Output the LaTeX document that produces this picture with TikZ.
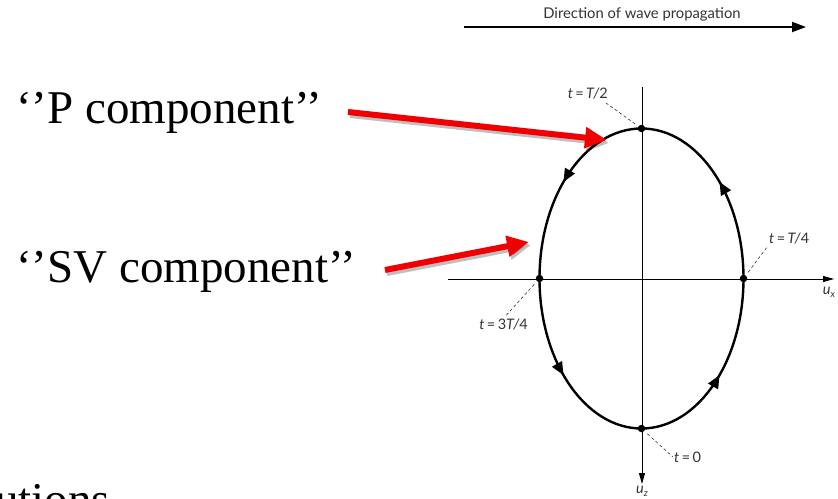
\documentclass[tikz,border=0pt]{standalone}
\usepackage{fontspec}
\setmainfont{Liberation Serif}
\newfontfamily\labfont{Lato}
\usetikzlibrary{arrows.meta,decorations.markings}
\definecolor{labgray}{HTML}{333333}
\definecolor{redarrow}{HTML}{F00000}
\begin{document}
\begin{tikzpicture}[x=1pt,y=-1pt,
  axisline/.style={line width=0.9pt,-{Triangle[length=11,width=6]}},
  dotnode/.style={circle,fill=black,inner sep=0pt,minimum size=7.5pt},
  tlabel/.style={font=\labfont\fontsize{14.5}{16}\selectfont,text=labgray,inner sep=1pt},
  dashline/.style={labgray,line width=0.6pt,dash pattern=on 3pt off 2.5pt},
  bigtext/.style={font=\fontsize{47}{50}\selectfont,inner sep=0pt},
  redarr/.style={redarrow,line width=6pt,-{Triangle[length=22,width=20]}},
  shadowarr/.style={black,opacity=0.25,line width=6pt,-{Triangle[length=22,width=20]}},
  ellarrows/.style={decoration={markings,
     mark=at position 0.126 with {\arrowreversed{Triangle[length=13,width=11]}},
     mark=at position 0.374 with {\arrowreversed{Triangle[length=13,width=11]}},
     mark=at position 0.626 with {\arrowreversed{Triangle[length=13,width=11]}},
     mark=at position 0.874 with {\arrowreversed{Triangle[length=13,width=11]}}},
     postaction={decorate}}
]
\useasboundingbox (0,0) rectangle (838,498);
\clip (0,0) rectangle (838,498);

% direction of propagation
\coordinate (d1) at (464,27);
\coordinate (d2) at (806,27);
\draw[line width=2pt,-{Triangle[length=14,width=10]}] (d1) -- (d2);
\node[anchor=base,font=\labfont\fontsize{14.8}{17}\selectfont,text=labgray,inner sep=0pt] (dir) at (642,18) {Direction of wave propagation};

% axes
\coordinate (xl) at (448,279);
\coordinate (xr) at (834,279);
\coordinate (zt) at (642,87);
\coordinate (zb) at (642,484);
\draw[axisline] (xl) -- (xr);
\draw[axisline] (zt) -- (zb);
\node[tlabel] (ux) at (829,292) {\itshape u\raisebox{-0.45ex}{\fontsize{9.5}{10}\selectfont x}};
\node[tlabel] (uz) at (642,491) {\itshape u\raisebox{-0.45ex}{\fontsize{9.5}{10}\selectfont z}};

% ellipse
\coordinate (c) at (641.5,278.5);
\draw[line width=2.4pt,ellarrows] (c) ellipse [x radius=102, y radius=150];

% points
\node[dotnode] (p0) at (641.5,428.5) {};
\node[dotnode] (p1) at (743.5,278.5) {};
\node[dotnode] (p2) at (641.5,128.5) {};
\node[dotnode] (p3) at (539.5,278.5) {};

% time labels
\node[tlabel,anchor=west] (l0) at (673,457) {\itshape t\upshape\,=\,0};
\node[tlabel,anchor=west] (l1) at (768,239) {\itshape t\upshape\,=\,\itshape T/\upshape 4};
\node[tlabel,anchor=east] (l2) at (609,94) {\itshape t\upshape\,=\,\itshape T/\upshape 2};
\node[tlabel,anchor=east] (l3) at (529,325) {\itshape t\upshape\,=\,3\itshape T/\upshape 4};
\draw[dashline,shorten <=4pt] (p0) -- (l0.west);
\draw[dashline,shorten <=4pt,shorten >=2pt] (p1) -- (l1.south west);
\draw[dashline,shorten <=4pt,shorten >=2pt] (p2) -- ([xshift=-6pt]l2.south east);
\draw[dashline,shorten <=4pt,shorten >=2pt] (p3) -- (l3.north);

% texts
\node[bigtext,anchor=base west] (ptext) at (16,123) {‘’P component’’};
\node[bigtext,anchor=base west] (svtext) at (16,282) {‘’SV component’’};
\node[bigtext,anchor=base west] (cut) at (-5,515) {utions};

% red arrows
\coordinate (pa1) at (348,112);
\coordinate (pa2) at (607,140);
\coordinate (sa1) at (385,270);
\coordinate (sa2) at (529,242);
\draw[shadowarr] ([shift={(2,3)}]pa1) -- ([shift={(2,3)}]pa2);
\draw[shadowarr] ([shift={(2,3)}]sa1) -- ([shift={(2,3)}]sa2);
\draw[redarr] (pa1) -- (pa2);
\draw[redarr] (sa1) -- (sa2);
\end{tikzpicture}
\end{document}
